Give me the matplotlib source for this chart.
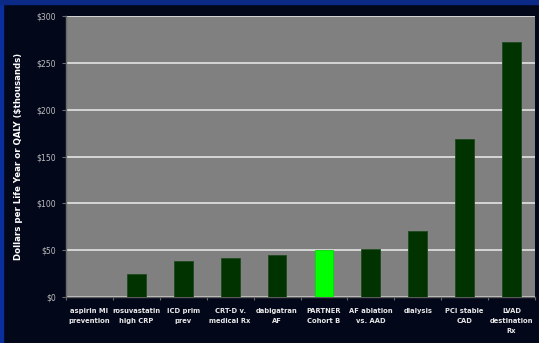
import matplotlib
matplotlib.use("Agg")
import matplotlib.pyplot as plt
from matplotlib.patches import Rectangle
from matplotlib import font_manager

categories = [
    "aspirin MI\nprevention",
    "rosuvastatin\nhigh CRP",
    "ICD prim\nprev",
    "CRT-D v.\nmedical Rx",
    "dabigatran\nAF",
    "PARTNER\nCohort B",
    "AF ablation\nvs. AAD",
    "dialysis",
    "PCI stable\nCAD",
    "LVAD\ndestination\nRx",
]
cost_per_qaly = [0, 25, 38, 42, 45, 50, 51, 70, 169, 272]
highlight = "PARTNER\nCohort B"
y_ticks = [0, 50, 100, 150, 200, 250, 300]
y_tick_labels = ["$0", "$50", "$100", "$150", "$200", "$250", "$300"]

available = {f.name for f in font_manager.fontManager.ttflist}
if "Liberation Sans Narrow" in available:
    label_font, label_size = "Liberation Sans Narrow", 6.0
elif "DejaVu Sans Condensed" in available:
    label_font, label_size = "DejaVu Sans Condensed", 5.3
else:
    label_font, label_size = "DejaVu Sans", 4.9

W, H = 539, 343
fig = plt.figure(figsize=(W / 100, H / 100), dpi=100)
fig.patch.set_facecolor("#03071a")

# blue frame along the top and left edges
fig.patches.append(Rectangle((0, 0), 3 / W, 1, transform=fig.transFigure,
                             color="#0a2f9c", zorder=0))
fig.patches.append(Rectangle((0, 1 - 4 / H), 1, 4 / H, transform=fig.transFigure,
                             color="#0a2a86", zorder=0))

left, right, top, bottom = 66, 535, 16, 297
ax = fig.add_axes([left / W, 1 - bottom / H, (right - left) / W, (bottom - top) / H])
ax.set_facecolor("#808080")

x = list(range(len(categories)))
colors = ["#00ff00" if c == highlight else "#003300" for c in categories]
edges = ["#00dd00" if c == highlight else "#1f4a1f" for c in categories]
ax.bar(x, cost_per_qaly, width=0.4, color=colors, edgecolor=edges,
       linewidth=0.6, zorder=3)

ax.set_xlim(-0.5, len(categories) - 0.5)
ax.set_ylim(0, 300)
ax.set_yticks(y_ticks)
ax.set_yticklabels(y_tick_labels, fontsize=5.6, color="#bdbdbd")
ax.yaxis.grid(True, color="#ececec", linewidth=1.1, zorder=1)
ax.set_axisbelow(True)

ax.set_xticks(x)
ax.set_xticklabels(categories, fontsize=label_size, color="#e8e8e8",
                   fontweight="bold", family=label_font, linespacing=1.75)
ax.set_xticks([i + 0.5 for i in range(-1, len(categories))], minor=True)
ax.tick_params(axis="x", which="major", length=0, pad=8)
ax.tick_params(axis="x", which="minor", length=2.5, color="#6a6a6a", width=0.8)
ax.tick_params(axis="y", length=3, color="#6a6a6a", width=0.8, pad=4)

for side in ("top", "right"):
    ax.spines[side].set_visible(False)
ax.spines["left"].set_color("#6a6a6a")
ax.spines["bottom"].set_color("#5a5a5a")
ax.spines["left"].set_linewidth(1.0)
ax.spines["bottom"].set_linewidth(1.0)

ax.set_ylabel("Dollars per Life Year or QALY ($thousands)", fontsize=6.2,
              color="white", fontweight="bold", labelpad=10)

fig.savefig("out.png", dpi=100, facecolor=fig.get_facecolor())
